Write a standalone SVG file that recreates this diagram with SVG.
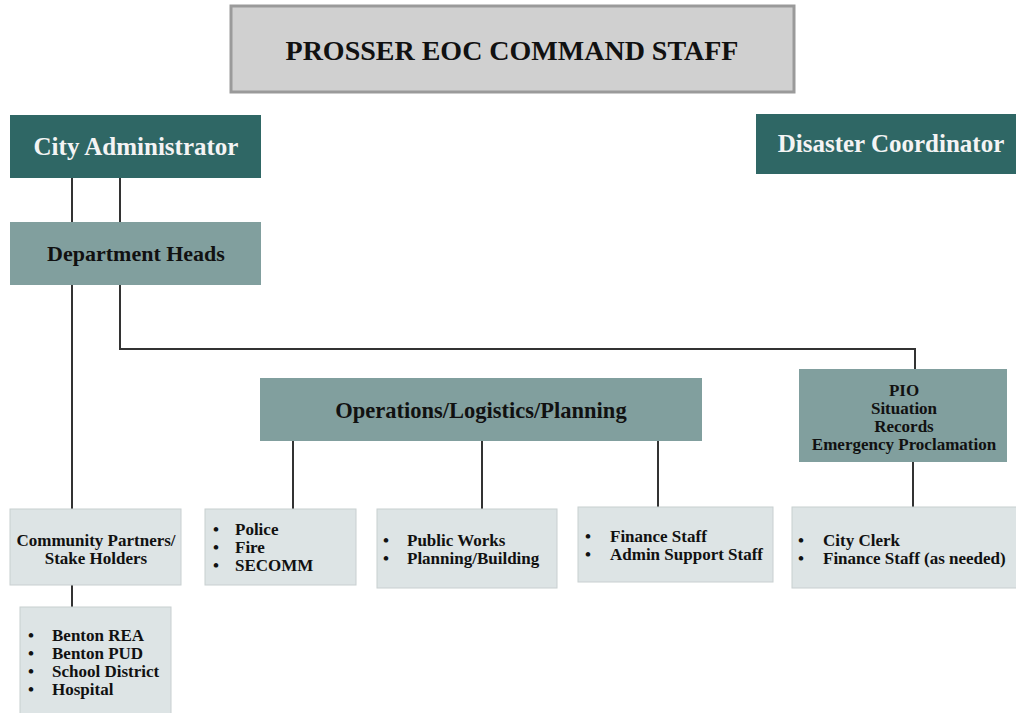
<svg xmlns="http://www.w3.org/2000/svg" width="1016" height="713" viewBox="0 0 1016 713">
<style>
text{font-family:"Liberation Serif","Times New Roman",serif;font-weight:bold;fill:#111}
.dark{fill:#2f6765}
.mid{fill:#819f9e}
.light{fill:#dde4e5;stroke:#c8cfd0;stroke-width:1}
.w{fill:#f4f4f4}
.ln{stroke:#333;stroke-width:2;fill:none}
.c{text-anchor:middle}
.s{font-size:17px}
</style>
<rect width="1016" height="713" fill="#fff"/>
<g id="title"><rect x="231" y="6" width="563" height="86" fill="#d0d0d0" stroke="#9a9a9a" stroke-width="3"/><text x="512" y="60" class="c" font-size="28">PROSSER EOC COMMAND STAFF</text></g>
<g id="connectors">
<path class="ln" d="M72 178V222M120 178V222M72 285V509M120 285V349H915V369M72 585V607M293 441V509M482 441V509M658 441V507M913 462V507"/>
</g>
<g id="cityadmin"><rect class="dark" x="10" y="115" width="251" height="63"/><text class="c w" x="136" y="155" font-size="25">City Administrator</text></g>
<g id="disaster"><rect class="dark" x="756" y="114" width="260" height="60"/><text class="c w" x="891" y="152" font-size="25">Disaster Coordinator</text></g>
<g id="depheads"><rect class="mid" x="10" y="222" width="251" height="63"/><text class="c" x="136" y="261" font-size="22">Department Heads</text></g>
<g id="ops"><rect class="mid" x="260" y="378" width="442" height="63"/><text class="c" x="481" y="418" font-size="22.5">Operations/Logistics/Planning</text></g>
<g id="pio"><rect class="mid" x="799" y="369" width="208" height="93"/>
<text class="c s"><tspan x="904" y="396">PIO</tspan><tspan x="904" y="414">Situation</tspan><tspan x="904" y="432">Records</tspan><tspan x="904" y="450">Emergency Proclamation</tspan></text></g>
<g id="community"><rect class="light" x="10" y="509" width="171" height="76"/>
<text class="c s"><tspan x="96" y="546">Community Partners/</tspan><tspan x="96" y="564">Stake Holders</tspan></text></g>
<g id="benton"><rect class="light" x="20" y="607" width="151" height="110"/>
<text class="s"><tspan x="28" y="641">•</tspan><tspan x="52" y="641">Benton REA</tspan><tspan x="28" y="659">•</tspan><tspan x="52" y="659">Benton PUD</tspan><tspan x="28" y="677">•</tspan><tspan x="52" y="677">School District</tspan><tspan x="28" y="695">•</tspan><tspan x="52" y="695">Hospital</tspan></text></g>
<g id="police"><rect class="light" x="205" y="509" width="151" height="76"/>
<text class="s"><tspan x="213" y="535">•</tspan><tspan x="235" y="535">Police</tspan><tspan x="213" y="553">•</tspan><tspan x="235" y="553">Fire</tspan><tspan x="213" y="571">•</tspan><tspan x="235" y="571">SECOMM</tspan></text></g>
<g id="publicworks"><rect class="light" x="377" y="509" width="180" height="79"/>
<text class="s"><tspan x="383" y="546">•</tspan><tspan x="407" y="546">Public Works</tspan><tspan x="383" y="564">•</tspan><tspan x="407" y="564">Planning/Building</tspan></text></g>
<g id="finance"><rect class="light" x="578" y="507" width="195" height="75"/>
<text class="s"><tspan x="585" y="542">•</tspan><tspan x="610" y="542">Finance Staff</tspan><tspan x="585" y="560">•</tspan><tspan x="610" y="560">Admin Support Staff</tspan></text></g>
<g id="clerk"><rect class="light" x="792" y="507" width="230" height="81"/>
<text class="s"><tspan x="798" y="546">•</tspan><tspan x="823" y="546">City Clerk</tspan><tspan x="798" y="564">•</tspan><tspan x="823" y="564">Finance Staff (as needed)</tspan></text></g>
</svg>
